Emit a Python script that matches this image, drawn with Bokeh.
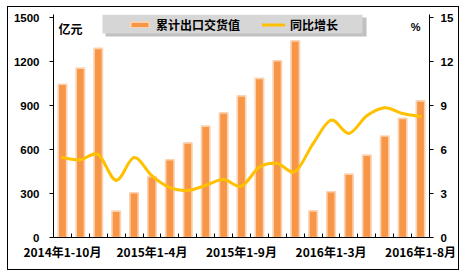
from bokeh.plotting import figure
from bokeh.models import (Range1d, LinearAxis, FixedTicker, BoxAnnotation, Legend,
                          LegendItem, Label, ColumnDataSource)
from bokeh.embed import file_html
from bokeh.resources import INLINE

# ---- data ----
categories = ["2014年1-10月", "2014年1-11月", "2014年1-12月",
              "2015年1-2月", "2015年1-3月", "2015年1-4月", "2015年1-5月", "2015年1-6月",
              "2015年1-7月", "2015年1-8月", "2015年1-9月", "2015年1-10月", "2015年1-11月",
              "2015年1-12月",
              "2016年1-2月", "2016年1-3月", "2016年1-4月", "2016年1-5月", "2016年1-6月",
              "2016年1-7月", "2016年1-8月"]
export_value = [1045, 1155, 1290, 180, 305, 415, 530, 645, 760, 850, 965, 1085, 1205, 1340,
                182, 312, 432, 562, 692, 812, 932]
growth_pct = [5.45, 5.3, 5.65, 3.9, 5.45, 4.2, 3.4, 3.2, 3.55, 3.95, 3.5, 4.8, 5.05, 4.5,
              6.4, 8.0, 7.1, 8.3, 8.85, 8.45, 8.25]
label_every = 5
left_ticks = [0, 300, 600, 900, 1200, 1500]
right_ticks = [0, 3, 6, 9, 12, 15]
bar_label = "累计出口交货值"
line_label = "同比增长"
left_unit = "亿元"
right_unit = "%"

W, H = 467, 278
FL, FR, FB = 53, 429, 237
AXIS_TOP = 17          # pixel row of the top tick
FT = 14                # frame top (slightly above top tick so legend box fits)
ext = (FB - FT) / (FB - AXIS_TOP)

n = len(categories)
xs = list(range(n))

border_css = ("linear-gradient(#000,#000) 7px 6px/452px 1.3px no-repeat, "
              "linear-gradient(#000,#000) 7px 269px/452px 1.3px no-repeat, "
              "linear-gradient(#000,#000) 7px 6px/1.3px 264px no-repeat, "
              "linear-gradient(#000,#000) 457.5px 6px/1.3px 264px no-repeat, #ffffff")

p = figure(width=W, height=H, output_backend="svg", toolbar_location=None,
           x_range=Range1d(-0.5, n - 0.5),
           y_range=Range1d(left_ticks[0], left_ticks[-1] * ext),
           min_border_left=FL, min_border_right=W - FR, min_border_top=FT,
           min_border_bottom=H - FB, styles={"background": border_css})
p.xgrid.visible = False
p.ygrid.visible = False
p.outline_line_color = None
p.background_fill_color = "white"
p.border_fill_alpha = 0

LBL_FONT = "Liberation Sans"
CJK_FONT = "Noto Sans CJK SC"

# x axis
xa = p.xaxis[0]
xa.ticker = FixedTicker(ticks=xs[::label_every], minor_ticks=[i - 0.5 for i in range(n + 1)])
xa.major_label_overrides = {i: categories[i] for i in xs[::label_every]}
xa.major_tick_in = 0
xa.major_tick_out = 0
xa.minor_tick_in = 4
xa.minor_tick_out = 0
xa.minor_tick_line_color = "black"
xa.axis_line_color = "black"
xa.major_label_text_font = CJK_FONT
xa.major_label_text_font_style = "bold"
xa.major_label_text_font_size = "12px"
xa.major_label_text_color = "black"
xa.major_label_standoff = 5

# left axis
ya = p.yaxis[0]
ya.ticker = FixedTicker(ticks=left_ticks)
ya.major_tick_in = 0
ya.major_tick_out = 4
ya.minor_tick_line_color = None
ya.axis_line_color = "black"
ya.major_tick_line_color = "black"
ya.major_label_text_font = LBL_FONT
ya.major_label_text_font_style = "bold"
ya.major_label_text_font_size = "11.5px"
ya.major_label_text_color = "black"
ya.major_label_standoff = 10

# right axis
p.extra_y_ranges = {"pct": Range1d(right_ticks[0], right_ticks[-1] * ext)}
ra = LinearAxis(y_range_name="pct", ticker=FixedTicker(ticks=right_ticks))
ra.major_tick_in = 0
ra.major_tick_out = 4
ra.minor_tick_line_color = None
ra.axis_line_color = "black"
ra.major_tick_line_color = "black"
ra.major_label_text_font = LBL_FONT
ra.major_label_text_font_style = "bold"
ra.major_label_text_font_size = "11.5px"
ra.major_label_text_color = "black"
ra.major_label_standoff = 7
p.add_layout(ra, "right")

# legend shadow + background (canvas pixels, y from top)
for (l, r, t, b, col, a) in [(105, 366, 17, 36, "#8C8C8C", 0.55),
                             (102, 362, 14, 33, "#D6D6D6", 1.0)]:
    p.add_layout(BoxAnnotation(left=l, right=r, top=t, bottom=b,
                               left_units="canvas", right_units="canvas",
                               top_units="canvas", bottom_units="canvas",
                               fill_color=col, fill_alpha=a, line_color=None,
                               level="underlay"))

# bars
bars = p.vbar(x=xs, top=export_value, bottom=0, width=0.47,
              fill_color="#F79646", line_color="#FBD3B3", line_width=1.7)

# smooth line drawn as bezier segments through the data points
x0, y0, x1, y1, cx0, cy0, cx1, cy1 = [], [], [], [], [], [], [], []
for i in range(n - 1):
    pm = max(i - 1, 0)
    pp = min(i + 2, n - 1)
    x0.append(xs[i]); y0.append(growth_pct[i])
    x1.append(xs[i + 1]); y1.append(growth_pct[i + 1])
    cx0.append(xs[i] + (xs[i + 1] - xs[pm]) / 6.0)
    cy0.append(growth_pct[i] + (growth_pct[i + 1] - growth_pct[pm]) / 6.0)
    cx1.append(xs[i + 1] - (xs[pp] - xs[i]) / 6.0)
    cy1.append(growth_pct[i + 1] - (growth_pct[pp] - growth_pct[i]) / 6.0)
src = ColumnDataSource(dict(x0=x0, y0=y0, x1=x1, y1=y1, cx0=cx0, cy0=cy0, cx1=cx1, cy1=cy1))
curve = p.bezier(x0="x0", y0="y0", x1="x1", y1="y1", cx0="cx0", cy0="cy0", cx1="cx1", cy1="cy1",
                 source=src, y_range_name="pct", line_color="#FFC000", line_width=3,
                 line_cap="round")

legend = Legend(items=[LegendItem(label=bar_label, renderers=[bars]),
                       LegendItem(label=line_label, renderers=[curve])],
                orientation="horizontal", location=(128 - FL, FB - 33),
                background_fill_alpha=0, border_line_color=None,
                glyph_width=23, glyph_height=7, label_standoff=5, spacing=22, padding=2,
                label_text_font=CJK_FONT, label_text_font_style="bold",
                label_text_font_size="12px", label_text_color="black",
                label_height=15, margin=0)
p.add_layout(legend, "center")

p.add_layout(Label(x=-0.5, y=left_ticks[-1], x_offset=5, y_offset=-2, text=left_unit,
                   text_baseline="top", text_font=CJK_FONT, text_font_style="bold",
                   text_font_size="12px", text_color="black"))
p.add_layout(Label(x=n - 0.5, y=right_ticks[-1], y_range_name="pct", x_offset=-9, y_offset=-3,
                   text=right_unit, text_align="right", text_baseline="top",
                   text_font=LBL_FONT, text_font_style="bold", text_font_size="11px",
                   text_color="black"))

open("out.html", "w").write(file_html(p, INLINE))
